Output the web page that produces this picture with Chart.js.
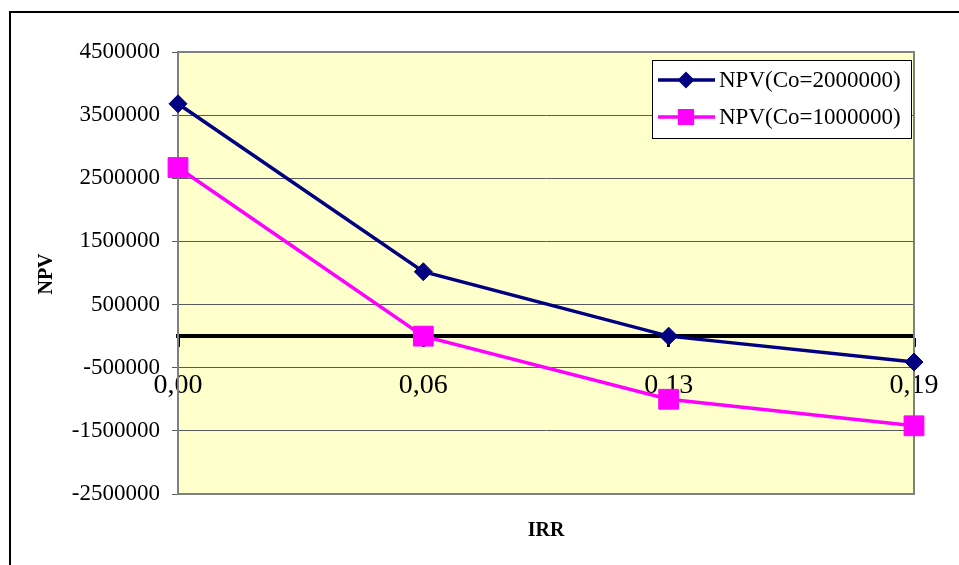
<!DOCTYPE html>
<html>
<head>
<meta charset="utf-8">
<title>NPV vs IRR</title>
<script src="https://cdn.jsdelivr.net/npm/chart.js@4/dist/chart.umd.min.js"></script>
<style>
  html, body { margin: 0; padding: 0; background: #ffffff; }
  #wrap { position: relative; width: 959px; height: 565px; }
</style>
</head>
<body>
<div id="wrap"><canvas id="npvChart"></canvas></div>
<script>
// Discount rates (category axis) and NPV for the two initial outlays
const irrLabels = ['0,00', '0,06', '0,13', '0,19'];
const npvCo2M = [3680000, 1020000, 0, -410000];
const npvCo1M = [2670000, 0, -1000000, -1420000];
const seriesNames = ['NPV(Co=2000000)', 'NPV(Co=1000000)'];

// Value axis range and step
const yMin = -2500000;
const yMax = 4500000;
const yStep = 1000000;

const SERIF = "'Liberation Serif', 'Times New Roman', serif";

// Pale yellow plot area, grey frame, outer black frame, axis titles
const framePlugin = {
  id: 'frame',
  beforeDraw(chart) {
    const { ctx, chartArea: a } = chart;
    ctx.save();
    ctx.fillStyle = '#FFFFCC';
    ctx.fillRect(a.left, a.top, a.right - a.left, a.bottom - a.top);
    // outer frame (left and top edges)
    ctx.strokeStyle = '#000000';
    ctx.lineWidth = 2;
    ctx.beginPath();
    ctx.moveTo(10, 565);
    ctx.lineTo(10, 12);
    ctx.lineTo(959, 12);
    ctx.stroke();
    ctx.restore();
  },
  beforeDatasetsDraw(chart) {
    const { ctx, chartArea: a } = chart;
    ctx.save();
    ctx.strokeStyle = '#808080';
    ctx.lineWidth = 2;
    ctx.beginPath();
    ctx.moveTo(a.left, a.top);
    ctx.lineTo(a.right, a.top);
    ctx.lineTo(a.right, a.bottom);
    ctx.lineTo(a.left, a.bottom);
    ctx.stroke();
    ctx.restore();
  },
  afterDraw(chart) {
    const { ctx, chartArea: a } = chart;
    ctx.save();
    ctx.fillStyle = '#000000';
    ctx.font = 'bold 20px ' + SERIF;
    ctx.textAlign = 'center';
    ctx.textBaseline = 'middle';
    ctx.fillText('IRR', (a.left + a.right) / 2, 531);
    ctx.translate(47, (a.top + a.bottom) / 2 + 1);
    ctx.rotate(-Math.PI / 2);
    ctx.fillText('NPV', 0, 0);
    ctx.restore();
  }
};

// Boxed legend in the upper right of the plot area
const boxLegendPlugin = {
  id: 'boxLegend',
  afterDraw(chart) {
    const { ctx, chartArea: a } = chart;
    const w = 259, h = 78;
    const x0 = a.right - 3 - w;
    const y0 = a.top + 8;
    ctx.save();
    ctx.fillStyle = '#ffffff';
    ctx.fillRect(x0, y0, w, h);
    ctx.strokeStyle = '#000000';
    ctx.lineWidth = 1;
    ctx.strokeRect(x0 + 0.5, y0 + 0.5, w, h);
    chart.data.datasets.forEach((ds, i) => {
      const y = y0 + 20 + i * 37;
      ctx.strokeStyle = ds.borderColor;
      ctx.lineWidth = 3.5;
      ctx.beginPath();
      ctx.moveTo(x0 + 6, y);
      ctx.lineTo(x0 + 63, y);
      ctx.stroke();
      ctx.fillStyle = ds.pointBackgroundColor;
      ctx.strokeStyle = ds.pointBorderColor;
      Chart.helpers.drawPoint(ctx, {
        pointStyle: ds.pointStyle,
        radius: ds.legendRadius,
        rotation: 0,
        borderWidth: 1
      }, x0 + 34, y);
      ctx.fillStyle = '#000000';
      ctx.font = '23px ' + SERIF;
      ctx.textAlign = 'left';
      ctx.textBaseline = 'middle';
      ctx.fillText(ds.label, x0 + 67, y + 1);
    });
    ctx.restore();
  }
};

new Chart(document.getElementById('npvChart'), {
  type: 'line',
  data: {
    labels: irrLabels,
    datasets: [
      {
        label: seriesNames[0],
        data: npvCo2M,
        borderColor: '#000080',
        backgroundColor: '#000080',
        pointBackgroundColor: '#000080',
        pointBorderColor: '#000080',
        pointStyle: 'rectRot',
        pointRadius: 9,
        pointBorderWidth: 1,
        legendRadius: 6,
        borderWidth: 3.5,
        tension: 0,
        clip: false
      },
      {
        label: seriesNames[1],
        data: npvCo1M,
        borderColor: '#FF00FF',
        backgroundColor: '#FF00FF',
        pointBackgroundColor: '#FF00FF',
        pointBorderColor: '#FF00FF',
        pointStyle: 'rect',
        pointRadius: 14,
        pointBorderWidth: 1,
        legendRadius: 9,
        borderWidth: 3.5,
        tension: 0,
        clip: false
      }
    ]
  },
  options: {
    responsive: true,
    maintainAspectRatio: false,
    animation: false,
    layout: { padding: { left: 0, top: 52, right: 45, bottom: 71 } },
    plugins: {
      legend: { display: false },
      tooltip: { enabled: false },
      title: { display: false }
    },
    elements: { point: { hoverRadius: 9 } },
    scales: {
      x: {
        type: 'category',
        position: { y: 0 },
        offset: false,
        afterFit(scale) { scale.paddingLeft = 0; scale.paddingRight = 0; },
        grid: {
          display: true,
          drawOnChartArea: false,
          drawTicks: true,
          tickLength: 9,
          tickWidth: 3,
          tickColor: '#000000',
          offset: false
        },
        border: { display: true, color: '#000000', width: 4 },
        ticks: {
          color: '#000000',
          font: { family: SERIF, size: 28 },
          padding: 24,
          maxRotation: 0,
          autoSkip: false
        }
      },
      y: {
        type: 'linear',
        min: yMin,
        max: yMax,
        afterFit(scale) { scale.width = 178; },
        grid: {
          color: '#5a5a5a',
          lineWidth: 1,
          drawTicks: true,
          tickLength: 6,
          tickColor: '#5a5a5a'
        },
        border: { display: true, color: '#808080', width: 2 },
        ticks: {
          stepSize: yStep,
          color: '#000000',
          padding: 12,
          font: { family: SERIF, size: 23 },
          callback: (v) => String(v)
        }
      }
    }
  },
  plugins: [framePlugin, boxLegendPlugin]
});
</script>
</body>
</html>
